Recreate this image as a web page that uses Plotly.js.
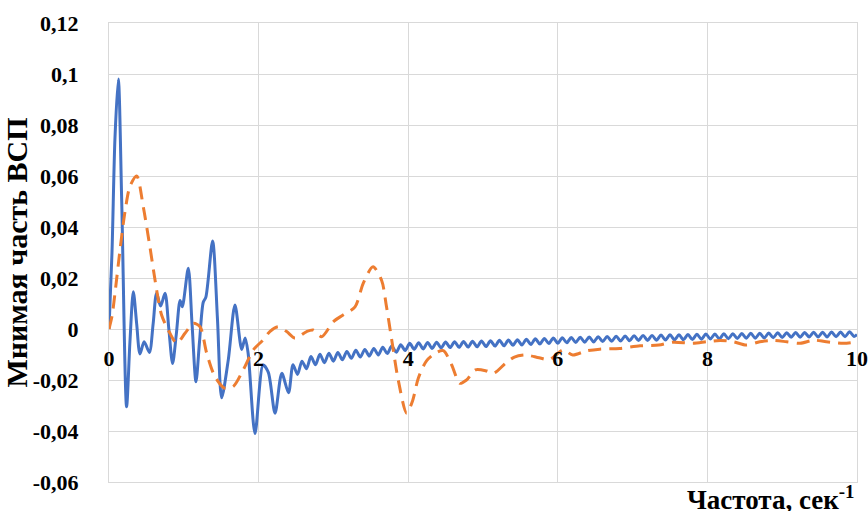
<!DOCTYPE html>
<html>
<head>
<meta charset="utf-8">
<script src="https://cdn.plot.ly/plotly-3.0.1.min.js"></script>
<style>html,body{margin:0;padding:0;background:#fff;}#chart{width:868px;height:511px;}</style>
</head>
<body>
<div id="chart"></div>
<script>
// ---- data ----
const blueX = [0, 0.04, 0.08, 0.125, 0.17, 0.235, 0.28, 0.325, 0.37, 0.414, 0.47, 0.54, 0.59, 0.636, 0.69, 0.749, 0.80, 0.85, 0.90, 0.95, 0.98, 1.06, 1.11, 1.163, 1.21, 1.26, 1.295, 1.385, 1.45, 1.506, 1.595, 1.684, 1.774, 1.82, 1.86, 1.952, 2.06, 2.13, 2.22, 2.31, 2.40, 2.46,
  2.52, 2.58, 2.64, 2.70, 2.76, 2.82, 2.88, 2.94, 3.00, 3.06, 3.12, 3.18, 3.24, 3.30, 3.36, 3.42, 3.48, 3.54, 3.60, 3.66, 3.72, 3.78, 3.84, 3.90, 3.96,
  4.02, 4.08, 4.14, 4.20, 4.26, 4.32, 4.38, 4.44, 4.50, 4.56, 4.62, 4.68, 4.74, 4.80, 4.86, 4.92, 4.98,
  5.04, 5.10, 5.16, 5.22, 5.28, 5.34, 5.40, 5.46, 5.52, 5.58, 5.64, 5.70, 5.76, 5.82, 5.88, 5.94,
  6.00, 6.06, 6.12, 6.18, 6.24, 6.30, 6.36, 6.42, 6.48, 6.54, 6.60, 6.66, 6.72, 6.78, 6.84, 6.90, 6.96,
  7.02, 7.08, 7.14, 7.20, 7.26, 7.32, 7.38, 7.44, 7.50, 7.56, 7.62, 7.68, 7.74, 7.80, 7.86, 7.92, 7.98,
  8.04, 8.10, 8.16, 8.22, 8.28, 8.34, 8.40, 8.46, 8.52, 8.58, 8.64, 8.70, 8.76, 8.82, 8.88, 8.94,
  9.00, 9.06, 9.12, 9.18, 9.24, 9.30, 9.36, 9.42, 9.48, 9.54, 9.60, 9.66, 9.72, 9.78, 9.84, 9.90, 9.96, 10.0];
const blueY = [0, 0.03, 0.075, 0.098, 0.05, -0.0305, -0.005, 0.0146, 0.002, -0.0098, -0.005, -0.0092, 0.002, 0.014, 0.009, 0.014, 0.0, -0.0135, -0.002, 0.0112, 0.0087, 0.0238, 0.002, -0.0207, -0.005, 0.0105, 0.0125, 0.0345, 0.004, -0.027, -0.012, 0.0094, -0.008, -0.0035, -0.0095, -0.041, -0.0141, -0.017, -0.033, -0.0174, -0.025, -0.0140,
  -0.0178, -0.0126, -0.0156, -0.0108, -0.0140, -0.0099, -0.0132, -0.0095, -0.0126, -0.0092, -0.0121, -0.0088, -0.0115, -0.0083, -0.0110, -0.0080, -0.0106, -0.0076, -0.0102, -0.0072, -0.0096, -0.0067, -0.0091, -0.0062, -0.0084,
  -0.0056, -0.0079, -0.0054, -0.0078, -0.0053, -0.0076, -0.0052, -0.0074, -0.0051, -0.0073, -0.0050, -0.0072, -0.0049, -0.0071, -0.0048, -0.0070, -0.0047,
  -0.0069, -0.0046, -0.0067, -0.0044, -0.0066, -0.0043, -0.0064, -0.0042, -0.0063, -0.0040, -0.0061, -0.0038, -0.0059, -0.0037, -0.0057, -0.0035,
  -0.0056, -0.0034, -0.0054, -0.0033, -0.0053, -0.0032, -0.0052, -0.0031, -0.0051, -0.0030, -0.0049, -0.0029, -0.0048, -0.0028, -0.0047, -0.0027, -0.0046,
  -0.0026, -0.0045, -0.0025, -0.0045, -0.0025, -0.0044, -0.0024, -0.0043, -0.0023, -0.0042, -0.0023, -0.0042, -0.0022, -0.0041, -0.0021, -0.0040, -0.0020,
  -0.0039, -0.0020, -0.0039, -0.0019, -0.0038, -0.0019, -0.0037, -0.0018, -0.0036, -0.0017, -0.0036, -0.0017, -0.0035, -0.0016, -0.0034, -0.0015,
  -0.0033, -0.0015, -0.0032, -0.0014, -0.0032, -0.0014, -0.0031, -0.0013, -0.0031, -0.0013, -0.0031, -0.0012, -0.0030, -0.0012, -0.0030, -0.0011, -0.0029, -0.0022];

const orangeX = [0, 0.04, 0.08, 0.147, 0.214, 0.281, 0.37, 0.458, 0.548, 0.637, 0.703, 0.815, 0.905, 1.016, 1.127, 1.217, 1.306, 1.417, 1.55, 1.66, 1.795, 1.93, 2.06, 2.15, 2.263, 2.375, 2.487, 2.643, 2.73, 2.843, 3.0, 3.13, 3.289, 3.40, 3.53, 3.645, 3.71, 3.78, 3.867, 3.98, 4.06, 4.135, 4.245, 4.38, 4.47, 4.58, 4.69, 4.78, 4.90, 5.05, 5.14, 5.30, 5.42, 5.57, 5.75, 5.89, 6.07, 6.2, 6.38, 6.56, 6.83, 7.1, 7.35, 7.54, 7.81, 7.99, 8.17, 8.35, 8.52, 8.70, 8.88, 9.06, 9.24, 9.42, 9.59, 9.82, 10];
const orangeY = [0, 0.005, 0.014, 0.031, 0.046, 0.056, 0.060, 0.048, 0.032, 0.0153, 0.0055, -0.0017, -0.0056, -0.0017, 0.0022, 0.0009, -0.0095, -0.0187, -0.0233, -0.0226, -0.016, -0.0082, -0.0043, -0.001, 0.0009, -0.001, -0.0036, -0.001, -0.0004, -0.003, 0.0029, 0.0055, 0.0087, 0.018, 0.0244, 0.019, 0.0087, -0.0043, -0.020, -0.033, -0.028, -0.0193, -0.0125, -0.0092, -0.0085, -0.0140, -0.0213, -0.020, -0.016, -0.0165, -0.0174, -0.0135, -0.011, -0.0102, -0.0113, -0.012, -0.0082, -0.0102, -0.0086, -0.0079, -0.0076, -0.0066, -0.0063, -0.0052, -0.0056, -0.005, -0.0045, -0.005, -0.0063, -0.005, -0.0045, -0.005, -0.0056, -0.0044, -0.005, -0.0056, -0.005];

const xTickVals = [0, 2, 4, 6, 8, 10];
const xTickText = ["0", "2", "4", "6", "8", "10"];
const yTickVals = [0.12, 0.1, 0.08, 0.06, 0.04, 0.02, 0, -0.02, -0.04, -0.06];
const yTickText = ["0,12", "0,1", "0,08", "0,06", "0,04", "0,02", "0", "-0,02", "-0,04", "-0,06"];
const yTitle = "Мнимая часть ВСП";
const xTitle = "Частота, сек<sup>-1</sup>";

// ---- chart ----
const serif = "Liberation Serif, Times New Roman, serif";
const gridC = "#d9d9d9";
const traces = [
  {x: blueX, y: blueY, type: "scatter", mode: "lines", xaxis: "x", yaxis: "y",
   line: {color: "#4472C4", width: 3, shape: "spline", smoothing: 0.8}, hoverinfo: "skip"},
  {x: orangeX, y: orangeY, type: "scatter", mode: "lines", xaxis: "x2", yaxis: "y",
   line: {color: "#ED7D31", width: 3, dash: "13px,8px", shape: "spline", smoothing: 0.8}, hoverinfo: "skip"}
];
const layout = {
  width: 868, height: 511,
  margin: {l: 109, r: 11, t: 23, b: 29},
  paper_bgcolor: "#fff", plot_bgcolor: "#fff",
  showlegend: false,
  font: {family: serif},
  xaxis: {range: [0, 10], tickvals: xTickVals, showticklabels: false, ticks: "",
          showgrid: true, gridcolor: gridC, gridwidth: 1, zeroline: false,
          showline: true, linecolor: gridC, linewidth: 1, mirror: true, fixedrange: true},
  xaxis2: {range: [0, 10], overlaying: "x", anchor: "free", position: 1/3, side: "bottom",
           tickvals: xTickVals, ticktext: xTickText, showgrid: false, zeroline: false, showline: false,
           ticks: "outside", ticklen: 10, tickcolor: "rgba(0,0,0,0)",
           tickfont: {family: serif, size: 22, color: "#000", weight: "bold"}, fixedrange: true},
  yaxis: {range: [-0.06, 0.12], tickvals: yTickVals, ticktext: yTickText,
          showgrid: true, gridcolor: gridC, gridwidth: 1,
          zeroline: true, zerolinecolor: gridC, zerolinewidth: 1,
          showline: true, linecolor: gridC, linewidth: 1, mirror: true,
          ticks: "outside", ticklen: 25, tickcolor: "rgba(0,0,0,0)",
          tickfont: {family: serif, size: 22, color: "#000", weight: "bold"},
          title: {text: yTitle, standoff: 2, font: {family: serif, size: 30, color: "#000", weight: "bold"}},
          fixedrange: true},
  annotations: [
    {text: xTitle, xref: "paper", yref: "paper", x: 1.0, y: 0, xanchor: "right", yanchor: "top", yshift: 3,
     showarrow: false, font: {family: serif, size: 27, color: "#000", weight: "bold"}}
  ]
};
Plotly.newPlot("chart", traces, layout, {staticPlot: true, displayModeBar: false});
</script>
</body>
</html>
